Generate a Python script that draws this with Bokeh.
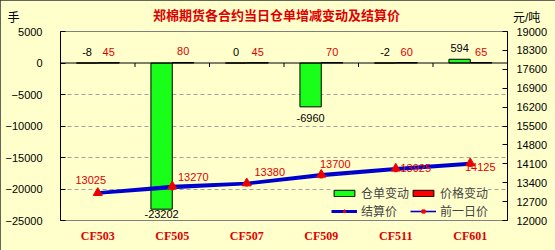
import math
from bokeh.plotting import figure
from bokeh.models import (Range1d, LinearAxis, FixedTicker, ColumnDataSource, Legend,
                          LegendItem, Label, Span, FactorRange)
from bokeh.transform import dodge
from bokeh.core.properties import value
from bokeh.embed import file_html
from bokeh.resources import INLINE

# ---------------- data ----------------
categories = ["CF503", "CF505", "CF507", "CF509", "CF511", "CF601"]
warrant_change = [-8, -23202, 0, -6960, -2, 594]          # 仓单变动 (手)
price_change = [45, 80, 45, 70, 60, 65]                    # 价格变动
settle_price = [13025, 13270, 13380, 13700, 13925, 14125]  # 结算价 (元/吨)
prev_price = [12980, 13190, 13335, 13630, 13865, 14060]    # 前一日价 (元/吨)
left_ticks = [-25000, -20000, -15000, -10000, -5000, 0, 5000]
right_ticks = [12000, 12700, 13400, 14100, 14800, 15500, 16200, 16900, 17600, 18300, 19000]
title_text = "郑棉期货各合约当日仓单增减变动及结算价"
left_unit = "手"
right_unit = "元/吨"

# ---------------- styles ----------------
BG = "#FFFFCC"
CJK = "Liberation Sans, Noto Sans CJK SC"
NUM = "Liberation Sans"
RED = "#E00000"
BLUE = "#0000CC"
settle_label_dx = [-7, 21, 23, 14, 20, 10]
settle_label_dy = [-13, -9, -11, -11, -1, 4]
wr_label_dy = [-11, 5, -11, 11, -11, -11]

p = figure(width=555, height=250, x_range=FactorRange(*categories),
           y_range=Range1d(left_ticks[0], left_ticks[-1]),
           output_backend="svg", toolbar_location=None,
           min_border_left=60, min_border_right=48, min_border_top=31, min_border_bottom=30)
p.extra_y_ranges = {"price": Range1d(right_ticks[0], right_ticks[-1])}
p.background_fill_color = BG
p.border_fill_color = BG
p.outline_line_color = "#808080"
p.styles = {"outline": "1px solid #303030", "outline-offset": "-1px"}

# left axis
ya = p.yaxis[0]
ya.ticker = FixedTicker(ticks=left_ticks)
ya.axis_line_color = "black"
ya.major_tick_in = 5
ya.major_tick_out = 0
ya.minor_tick_line_color = None
ya.major_label_standoff = 18
ya.major_label_text_font = NUM
ya.major_label_text_font_size = "11px"
ya.major_label_text_color = "black"

# right axis
ra = LinearAxis(y_range_name="price", ticker=FixedTicker(ticks=right_ticks))
ra.axis_line_color = "black"
ra.major_tick_in = 5
ra.major_tick_out = 0
ra.minor_tick_line_color = None
ra.major_label_standoff = 9
ra.major_label_text_font = NUM
ra.major_label_text_font_size = "11px"
ra.major_label_text_color = "black"
p.add_layout(ra, "right")

# bottom axis
xa = p.xaxis[0]
xa.axis_line_color = "#808080"
xa.major_tick_line_color = None
xa.major_tick_out = 0
xa.major_label_standoff = 8
xa.major_label_text_font = "Liberation Serif"
xa.major_label_text_font_style = "bold"
xa.major_label_text_font_size = "12px"
xa.major_label_text_color = RED

# grid
p.xgrid.grid_line_color = None
p.ygrid.ticker = FixedTicker(ticks=[t for t in left_ticks if t not in (0, left_ticks[0], left_ticks[-1])])
p.ygrid.grid_line_color = "#A0A0A0"
p.ygrid.grid_line_dash = "4 3"

src = ColumnDataSource(dict(
    cat=categories, wr=warrant_change, pc=price_change,
    settle=settle_price, prev=prev_price,
    wr_txt=[str(v) for v in warrant_change],
    pc_txt=[str(v) for v in price_change],
    wr_off=wr_label_dy,
    st_txt=[str(v) for v in settle_price],
    st_dx=settle_label_dx, st_dy=settle_label_dy,
))

# bars
g_bars = p.vbar(x=dodge("cat", -0.143, range=p.x_range), top="wr", bottom=0, width=0.286,
                source=src, fill_color="#19FF19", line_color="black", line_width=1)
r_bars = p.vbar(x=dodge("cat", 0.146, range=p.x_range), top="pc", bottom=0, width=0.286,
                source=src, fill_color="#FF0000", line_color="black", line_width=1)

# zero line + category separator ticks
p.add_layout(Span(location=0, dimension="width", line_color="black", line_width=1))
sep = ColumnDataSource(dict(cat=categories[:-1], y=[0] * (len(categories) - 1)))
p.ray(x=dodge("cat", 0.5, range=p.x_range), y="y", length=4, length_units="screen",
      angle=-math.pi / 2, source=sep, line_color="black", line_width=1)

# value labels
p.text(x=dodge("cat", -0.143, range=p.x_range), y="wr", text="wr_txt", y_offset="wr_off",
       source=src, text_align="center", text_baseline="middle",
       text_font=value(NUM), text_font_size="11px", text_color="black")
p.text(x=dodge("cat", 0.146, range=p.x_range), y="pc", text="pc_txt", y_offset=-11,
       source=src, text_align="center", text_baseline="middle",
       text_font=value(NUM), text_font_size="11px", text_color=RED)

# price lines
prev_line = p.line(x="cat", y="prev", source=src, y_range_name="price",
                   line_color=BLUE, line_width=1.6)
prev_mark = p.scatter(x="cat", y="prev", source=src, y_range_name="price",
                      marker="square", size=3, fill_color="#FF0000", line_color="#FF0000")
settle_line = p.line(x="cat", y="settle", source=src, y_range_name="price",
                     line_color=BLUE, line_width=3)
settle_mark = p.scatter(x="cat", y="settle", source=src, y_range_name="price",
                        marker="triangle", size=9, fill_color="#EE0000", line_color="#EE0000")
p.text(x="cat", y="settle", text="st_txt", x_offset="st_dx", y_offset="st_dy",
       source=src, y_range_name="price", text_align="center", text_baseline="middle",
       text_font=value(NUM), text_font_size="11px", text_color=RED)

# title + unit labels in the top panel
p.add_layout(Label(x=216, y=16, x_units="screen", y_units="screen", text=title_text,
                   text_font=CJK, text_font_size="13px", text_font_style="bold",
                   text_color=RED, text_align="center", text_baseline="middle"), "above")
p.add_layout(Label(x=-53, y=-1, x_units="screen", y_units="screen",
                   text=left_unit + "\u00a0" * 148 + right_unit,
                   text_font=CJK, text_font_size="12px", text_color="black",
                   text_align="left", text_baseline="middle"), "above")

legend = Legend(items=[
    LegendItem(label="仓单变动", renderers=[g_bars]),
    LegendItem(label="价格变动", renderers=[r_bars]),
    LegendItem(label="结算价", renderers=[settle_line, settle_mark]),
    LegendItem(label="前一日价", renderers=[prev_line, prev_mark]),
], location=(271, 1), orientation="horizontal", ncols=2,
    background_fill_color=BG, background_fill_alpha=1, border_line_color=None,
    padding=1, margin=0, spacing=1, glyph_width=26, glyph_height=8,
    label_height=12, label_standoff=4, label_text_font=CJK, label_text_font_size="12px",
    label_text_baseline="middle")
p.add_layout(legend)

open("out.html", "w").write(file_html(p, INLINE))
